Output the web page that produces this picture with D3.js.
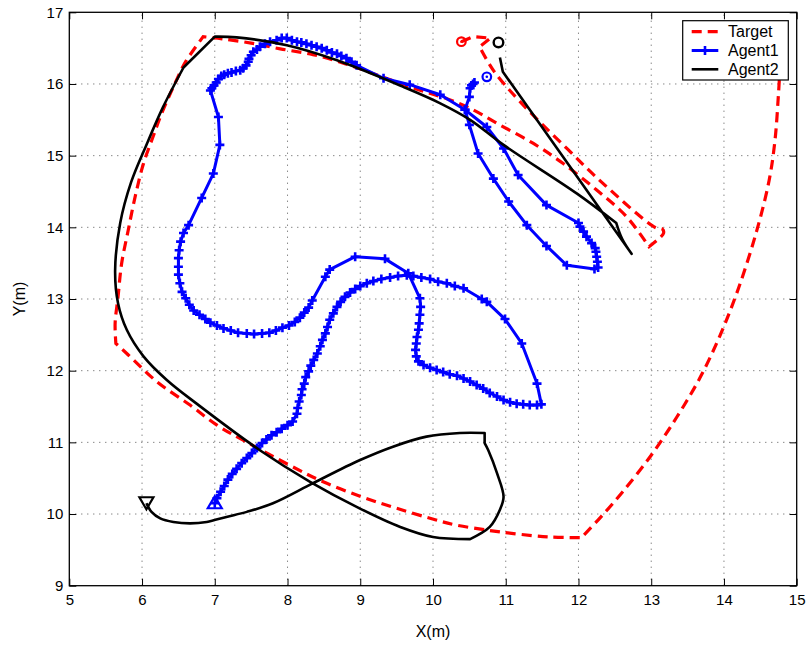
<!DOCTYPE html>
<html><head><meta charset="utf-8">
<script src="https://cdn.jsdelivr.net/npm/d3@7"></script>
<style>body{margin:0;background:#fff}</style>
</head><body><svg id="c" width="808" height="646"></svg>
<script>
const xTicks=[5,6,7,8,9,10,11,12,13,14,15];
const yTicks=[9,10,11,12,13,14,15,16,17];
const seriesNames=["Target","Agent1","Agent2"];
const target=[[10.39,16.59],[10.55,16.66],[10.79,16.64],[10.64,16.52],[10.83,16.19],[11.20,15.75],[11.84,15.10],[12.34,14.61],[13.07,13.99],[13.15,13.98],[13.17,13.92],[12.97,13.73],[12.66,14.15],[12.25,14.52],[11.79,14.89],[11.38,15.17],[10.88,15.45],[10.55,15.64],[10.2,15.79],[9.8,15.92],[9.3,16.10],[8.8,16.28],[8.35,16.41],[7.9,16.49],[7.5,16.57],[7.1,16.63],[6.84,16.66],[6.61,16.33],[6.55,16.22],[6.29,15.64],[6.15,15.26],[6.02,14.89],[5.91,14.45],[5.81,13.96],[5.72,13.50],[5.67,13.03],[5.63,12.66],[5.64,12.38],[5.79,12.24],[6.20,11.85],[6.66,11.52],[7.03,11.24],[7.39,11.03],[8.03,10.68],[8.49,10.45],[9.02,10.24],[9.50,10.08],[10.03,9.92],[10.30,9.85],[10.78,9.77],[11.08,9.73],[11.59,9.68],[12.04,9.67],[12.30,9.95],[12.60,10.30],[13.00,10.82],[13.35,11.35],[13.67,11.90],[13.95,12.50],[14.20,13.15],[14.45,13.95],[14.62,14.65],[14.70,15.20],[14.75,15.87],[14.78,16.4]];
const targetCorners=[1,2,3,11,26,28,37,52];
const agent1Start=[10.74,16.10];
const agent1=[[10.57,16.02],[10.55,16.00],[10.53,15.98],[10.51,15.94],[10.50,15.82],[10.44,15.64],[10.50,15.43],[10.62,15.03],[10.83,14.68],[11.04,14.36],[11.29,14.03],[11.56,13.74],[11.84,13.47],[12.22,13.42],[12.27,13.44],[12.26,13.52],[12.25,13.59],[12.24,13.66],[12.23,13.71],[12.18,13.78],[12.11,13.87],[12.07,13.94],[12.02,14.01],[12.00,14.06],[11.56,14.31],[11.17,14.73],[10.97,15.10],[10.74,15.40],[10.44,15.64],[10.10,15.85],[9.68,15.99],[9.32,16.08],[8.95,16.26],[8.88,16.31],[8.81,16.36],[8.74,16.39],[8.68,16.42],[8.61,16.44],[8.54,16.47],[8.47,16.50],[8.40,16.52],[8.33,16.54],[8.26,16.56],[8.19,16.58],[8.13,16.59],[8.06,16.61],[7.99,16.64],[7.92,16.64],[7.85,16.61],[7.76,16.59],[7.69,16.56],[7.62,16.52],[7.58,16.48],[7.53,16.45],[7.50,16.40],[7.47,16.35],[7.46,16.31],[7.43,16.26],[7.39,16.22],[7.35,16.19],[7.29,16.18],[7.23,16.16],[7.18,16.15],[7.13,16.13],[7.09,16.11],[7.05,16.07],[7.02,16.02],[6.99,15.98],[6.96,15.94],[6.94,15.91],[7.05,15.54],[7.07,15.15],[6.98,14.75],[6.82,14.41],[6.64,14.03],[6.57,13.92],[6.53,13.80],[6.51,13.68],[6.50,13.57],[6.50,13.45],[6.50,13.34],[6.52,13.22],[6.55,13.10],[6.60,13.01],[6.65,12.92],[6.71,12.84],[6.79,12.78],[6.87,12.72],[6.94,12.67],[7.03,12.63],[7.12,12.59],[7.22,12.56],[7.32,12.53],[7.44,12.52],[7.54,12.51],[7.65,12.52],[7.75,12.53],[7.84,12.56],[7.93,12.60],[8.02,12.63],[8.10,12.68],[8.17,12.74],[8.23,12.81],[8.29,12.88],[8.34,12.98],[8.52,13.31],[8.58,13.41],[8.93,13.59],[9.34,13.56],[9.66,13.36],[9.82,13.01],[9.83,12.89],[9.82,12.78],[9.81,12.66],[9.80,12.57],[9.78,12.47],[9.77,12.38],[9.76,12.29],[9.77,12.20],[9.80,12.13],[9.87,12.08],[9.96,12.04],[10.05,12.01],[10.14,11.98],[10.23,11.95],[10.33,11.93],[10.42,11.89],[10.51,11.85],[10.60,11.80],[10.69,11.75],[10.78,11.69],[10.88,11.64],[10.97,11.59],[11.06,11.56],[11.15,11.54],[11.24,11.53],[11.33,11.52],[11.43,11.52],[11.49,11.53],[11.43,11.82],[11.22,12.38],[10.99,12.72],[10.74,12.96],[10.67,13.00],[10.42,13.15],[10.30,13.18],[10.19,13.22],[10.07,13.24],[9.96,13.28],[9.84,13.30],[9.73,13.32],[9.64,13.33],[9.52,13.32],[9.41,13.30],[9.29,13.28],[9.18,13.25],[9.09,13.22],[9.00,13.18],[8.93,13.14],[8.86,13.09],[8.79,13.03],[8.73,12.96],[8.68,12.89],[8.63,12.80],[8.58,12.71],[8.55,12.61],[8.52,12.52],[8.48,12.43],[8.45,12.34],[8.41,12.24],[8.36,12.15],[8.32,12.07],[8.29,11.99],[8.25,11.91],[8.23,11.82],[8.20,11.74],[8.19,11.66],[8.16,11.57],[8.14,11.48],[8.13,11.40],[8.07,11.29],[8.00,11.24],[7.92,11.19],[7.85,11.14],[7.78,11.10],[7.71,11.04],[7.65,10.99],[7.58,10.92],[7.51,10.85],[7.44,10.78],[7.37,10.71],[7.30,10.63],[7.24,10.56],[7.18,10.48],[7.13,10.39],[7.08,10.31],[7.03,10.22],[7.00,10.15]];
const agent2Start=[10.90,16.58];
const agent2=[[10.92,16.37],[10.96,16.17],[12.73,13.63],[12.60,13.84],[12.52,14.06],[11.98,14.47],[10.97,15.15],[10.51,15.50],[10.10,15.73],[9.59,15.96],[8.68,16.33],[7.99,16.54],[7.30,16.65],[7.0,16.66],[6.57,16.23],[6.29,15.68],[6.06,15.15],[5.85,14.63],[5.70,14.06],[5.63,13.40],[5.67,12.94],[5.79,12.57],[6.02,12.20],[6.34,11.87],[6.75,11.54],[7.62,10.89],[8.31,10.45],[8.99,10.08],[9.55,9.82],[10.0,9.68],[10.51,9.65],[10.78,9.82],[10.92,10.06],[10.97,10.24],[10.88,10.57],[10.76,10.89],[10.71,10.99],[10.71,11.13],[10.37,11.13],[9.91,11.08],[9.45,10.94],[8.99,10.75],[8.35,10.43],[7.80,10.15],[7.44,10.03],[7.16,9.96],[6.89,9.89],[6.66,9.87],[6.43,9.89],[6.25,9.94],[6.13,10.03],[6.06,10.15]];
const agent2Corners=[1,2,4,13,14,30,36,37];

const FONT="'Liberation Sans', Arial, Helvetica, sans-serif";
const svg=d3.select("#c");
const x=d3.scaleLinear().domain([5,15]).range([69.3,796.7]);
const y=d3.scaleLinear().domain([9,17]).range([585.7,12.3]);

// grid
const grid=svg.append("g").attr("stroke","#555").attr("stroke-width",1).attr("stroke-dasharray","1,5");
grid.selectAll("line.gx").data(xTicks.slice(1,-1)).join("line").attr("class","gx")
  .attr("x1",d=>x(d)).attr("x2",d=>x(d)).attr("y1",y(9)).attr("y2",y(17));
grid.selectAll("line.gy").data(yTicks.slice(1,-1)).join("line").attr("class","gy")
  .attr("y1",d=>y(d)).attr("y2",d=>y(d)).attr("x1",x(5)).attr("x2",x(15));

function styleAxis(s){s.select(".domain").remove();s.attr("font-size",15).attr("font-family",FONT);s.selectAll("line").attr("stroke","#000").attr("stroke-width",1);s.selectAll("text").attr("fill","#000");}
svg.append("g").attr("transform",`translate(0,${y(9)})`).call(d3.axisBottom(x).tickValues(xTicks).tickSizeInner(-7).tickSizeOuter(0).tickPadding(9)).call(styleAxis);
svg.append("g").attr("transform",`translate(0,${y(17)})`).call(d3.axisTop(x).tickValues(xTicks).tickFormat("").tickSizeInner(-7).tickSizeOuter(0)).call(styleAxis);
svg.append("g").attr("transform",`translate(${x(5)},0)`).call(d3.axisLeft(y).tickValues(yTicks).tickSizeInner(-7).tickSizeOuter(0).tickPadding(6)).call(styleAxis);
svg.append("g").attr("transform",`translate(${x(15)},0)`).call(d3.axisRight(y).tickValues(yTicks).tickFormat("").tickSizeInner(-7).tickSizeOuter(0)).call(styleAxis);

const line=d3.line().x(d=>x(d[0])).y(d=>y(d[1]));
const smooth=d3.line().x(d=>x(d[0])).y(d=>y(d[1])).curve(d3.curveCatmullRom.alpha(0.5));
function piecewise(data,corners){
  const cuts=[0,...corners,data.length-1];
  let d="";
  for(let i=0;i<cuts.length-1;i++){
    let s=smooth(data.slice(cuts[i],cuts[i+1]+1));
    if(i>0) s=s.replace(/^M/,"L");
    d+=s;
  }
  return d;
}
const plot=svg.append("g");
// Target
plot.append("path").attr("d",piecewise(target,targetCorners)).attr("fill","none").attr("stroke","#f00").attr("stroke-width",3.2).attr("stroke-dasharray","10,6");
plot.append("circle").attr("cx",x(target[0][0])).attr("cy",y(target[0][1])).attr("r",4.3).attr("fill","none").attr("stroke","#f00").attr("stroke-width",2.2);
plot.append("circle").attr("cx",x(target[0][0])).attr("cy",y(target[0][1])).attr("r",1.3).attr("fill","#f00");
// Agent1
plot.append("path").datum(agent1).attr("d",line).attr("fill","none").attr("stroke","#00f").attr("stroke-width",3).attr("stroke-linejoin","round");
plot.selectAll("path.p1").data(agent1).join("path").attr("class","p1")
  .attr("d",d=>`M${x(d[0])-4.5},${y(d[1])}h9M${x(d[0])},${y(d[1])-4.5}v9`).attr("stroke","#00f").attr("stroke-width",2.6).attr("fill","none");
plot.append("circle").attr("cx",x(agent1Start[0])).attr("cy",y(agent1Start[1])).attr("r",4.3).attr("fill","none").attr("stroke","#00f").attr("stroke-width",2.2);
plot.append("circle").attr("cx",x(agent1Start[0])).attr("cy",y(agent1Start[1])).attr("r",1.3).attr("fill","#00f");
const a1e=agent1[agent1.length-1];
plot.append("path").attr("d",`M${x(a1e[0])},${y(a1e[1])-7}L${x(a1e[0])+7},${y(a1e[1])+5}L${x(a1e[0])-7},${y(a1e[1])+5}Z`).attr("fill","none").attr("stroke","#00f").attr("stroke-width",2.2);
// Agent2
plot.append("path").attr("d",piecewise(agent2,agent2Corners)).attr("fill","none").attr("stroke","#000").attr("stroke-width",2.6).attr("stroke-linejoin","round");
plot.append("circle").attr("cx",x(agent2Start[0])).attr("cy",y(agent2Start[1])).attr("r",4.8).attr("fill","none").attr("stroke","#000").attr("stroke-width",2.4);
const a2e=agent2[agent2.length-1];
plot.append("path").attr("d",`M${x(a2e[0])-7},${y(a2e[1])-6}L${x(a2e[0])+7},${y(a2e[1])-6}L${x(a2e[0])},${y(a2e[1])+6}Z`).attr("fill","none").attr("stroke","#000").attr("stroke-width",2.2);

// box
svg.append("rect").attr("x",x(5)).attr("y",y(17)).attr("width",x(15)-x(5)).attr("height",y(9)-y(17)).attr("fill","none").attr("stroke","#000").attr("stroke-width",1.3);

// labels
svg.append("text").attr("x",(x(5)+x(15))/2).attr("y",637).attr("text-anchor","middle").attr("font-family",FONT).attr("font-size",16).text("X(m)");
svg.append("text").attr("transform",`translate(25,${(y(9)+y(17))/2}) rotate(-90)`).attr("text-anchor","middle").attr("font-family",FONT).attr("font-size",16).text("Y(m)");

// legend
const lg=svg.append("g");
lg.append("rect").attr("x",682.7).attr("y",20.7).attr("width",105.6).attr("height",59.3).attr("fill","#fff").attr("stroke","#000").attr("stroke-width",1.2);
const ly=[31.7,50.5,69.3];
const lstyle=[{c:"#f00",da:"10,6",w:3.2},{c:"#00f",da:null,w:3},{c:"#000",da:null,w:2.6}];
seriesNames.forEach((n,i)=>{
  lg.append("line").attr("x1",691.7).attr("x2",718.3).attr("y1",ly[i]).attr("y2",ly[i]).attr("stroke",lstyle[i].c).attr("stroke-width",lstyle[i].w).attr("stroke-dasharray",lstyle[i].da);
  if(i===1) lg.append("path").attr("d",`M${705-4.5},${ly[i]}h9M705,${ly[i]-4.5}v9`).attr("stroke","#00f").attr("stroke-width",2.6);
  lg.append("text").attr("x",728).attr("y",ly[i]).attr("dy","0.36em").attr("font-family",FONT).attr("font-size",16).text(n);
});
</script></body></html>
